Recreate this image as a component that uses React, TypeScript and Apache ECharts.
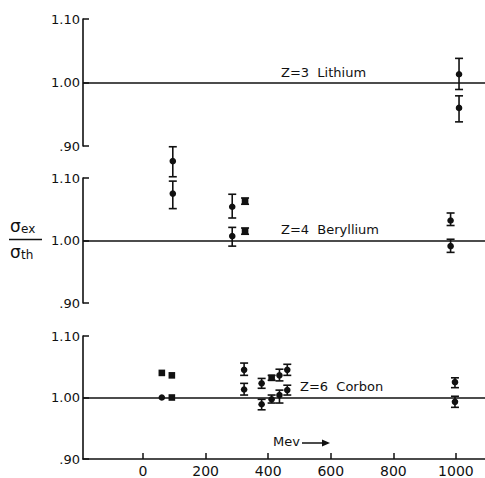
import React, { useEffect, useRef } from "react";
import * as echarts from "echarts";

// X tick labels (MeV)
const xTicks = [0, 200, 400, 600, 800, 1000];
const yTicks = [0.9, 1.0, 1.1];

// Lithium (Z=3) — circles with error bars
const liE = [1010, 1010];
const liV = [1.013, 0.96];
const liLo = [0.989, 0.938];
const liHi = [1.038, 0.979];

// Beryllium (Z=4) — circles
const beE = [95, 95, 285, 285, 983, 983];
const beV = [1.127, 1.075, 1.054, 1.007, 1.032, 0.991];
const beLo = [1.102, 1.051, 1.036, 0.991, 1.024, 0.981];
const beHi = [1.15, 1.095, 1.074, 1.021, 1.044, 1.002];
// Beryllium — squares
const beSqE = [326, 326];
const beSqV = [1.063, 1.015];
const beSqLo = [1.058, 1.01];
const beSqHi = [1.068, 1.02];

// Carbon (Z=6) — circles
const cE = [60, 323, 323, 379, 379, 411, 436, 436, 461, 461, 997, 997];
const cV = [1.0, 1.045, 1.013, 1.023, 0.989, 0.997, 1.036, 1.004, 1.045, 1.012, 1.025, 0.993];
const cLo = [null, 1.036, 1.004, 1.015, 0.98, 0.991, 1.027, 0.991, 1.036, 1.004, 1.016, 0.984];
const cHi = [null, 1.056, 1.023, 1.031, 0.997, 1.004, 1.046, 1.012, 1.054, 1.02, 1.032, 1.002];
// Carbon — squares
const cSqE = [60, 92, 92, 411];
const cSqV = [1.04, 1.036, 1.0, 1.032];
const cSqLo = [null, null, null, 1.028];
const cSqHi = [null, null, null, 1.036];

const INK = "#111";
const FONT = "DejaVu Sans";

function build(e: number[], v: number[], lo: (number | null)[], hi: (number | null)[]) {
  return e.map((x, i) => [
    x,
    v[i],
    lo[i] == null ? v[i] : lo[i],
    hi[i] == null ? v[i] : hi[i],
    lo[i] == null ? 0 : 1,
  ]);
}

function makeRender(shape: "circle" | "square") {
  return (params: any, api: any) => {
    const x = api.value(0);
    const y = api.value(1);
    const lo = api.value(2);
    const hi = api.value(3);
    const has = api.value(4);
    const p = api.coord([x, y]);
    const children: any[] = [];
    const ls = { stroke: INK, lineWidth: 1.6 };
    if (has) {
      const a = api.coord([x, lo]);
      const b = api.coord([x, hi]);
      children.push({ type: "line", shape: { x1: a[0], y1: a[1], x2: b[0], y2: b[1] }, style: ls });
      children.push({ type: "line", shape: { x1: a[0] - 4, y1: a[1], x2: a[0] + 4, y2: a[1] }, style: ls });
      children.push({ type: "line", shape: { x1: b[0] - 4, y1: b[1], x2: b[0] + 4, y2: b[1] }, style: ls });
    }
    if (shape === "circle") {
      children.push({ type: "circle", shape: { cx: p[0], cy: p[1], r: 3.3 }, style: { fill: INK } });
    } else {
      children.push({ type: "rect", shape: { x: p[0] - 3.3, y: p[1] - 3.3, width: 6.6, height: 6.6 }, style: { fill: INK } });
    }
    return { type: "group", children };
  };
}

function customSeries(idx: number, shape: "circle" | "square", data: any[]) {
  return {
    type: "custom",
    xAxisIndex: idx,
    yAxisIndex: idx,
    clip: false,
    renderItem: makeRender(shape),
    data,
    z: 5,
  };
}

function refLine(idx: number) {
  return {
    type: "line",
    xAxisIndex: idx,
    yAxisIndex: idx,
    data: [],
    markLine: {
      silent: true,
      symbol: ["none", "none"],
      label: { show: false },
      lineStyle: { color: INK, width: 1.6, type: "solid" },
      data: [{ yAxis: 1.0 }],
    },
  };
}

export default function App() {
  const ref = useRef<HTMLDivElement>(null);
  useEffect(() => {
    if (!ref.current) return;
    const chart = echarts.init(ref.current, null, { renderer: "svg" });
    const grids = [
      { left: 83, right: 0, top: 19, height: 127 },
      { left: 83, right: 0, top: 178, height: 125 },
      { left: 83, right: 0, top: 336, height: 124 },
    ];
    const xAxes = grids.map((_, i) => ({
      type: "value",
      gridIndex: i,
      min: -192,
      max: 1093,
      show: i === 2,
      splitLine: { show: false },
      axisLine: { show: i === 2, onZero: false, lineStyle: { color: INK, width: 1.6 } },
      axisTick: {
        show: i === 2,
        inside: true,
        length: 6,
        customValues: xTicks,
        lineStyle: { color: INK, width: 1.5 },
      },
      axisLabel: {
        show: i === 2,
        customValues: xTicks,
        color: INK,
        fontFamily: FONT,
        fontSize: 14,
        margin: 5,
        formatter: (v: number) => String(v),
      },
    }));
    const yAxes = grids.map((_, i) => ({
      type: "value",
      gridIndex: i,
      min: 0.9,
      max: 1.1,
      splitLine: { show: false },
      axisLine: { show: true, onZero: false, lineStyle: { color: INK, width: 1.6 } },
      axisTick: {
        show: true,
        inside: true,
        length: 6,
        customValues: yTicks,
        lineStyle: { color: INK, width: 1.5 },
      },
      axisLabel: {
        customValues: yTicks,
        color: INK,
        fontFamily: FONT,
        fontSize: 13,
        margin: 3,
        formatter: (v: number) => (Math.abs(v - 0.9) < 1e-6 ? ".90" : v.toFixed(2)),
      },
    }));
    const textStyle = (t: string, x: number, y: number, size = 13) => ({
      type: "text",
      left: x,
      top: y,
      style: { text: t, fill: INK, font: `${size}px "${FONT}"` },
    });
    chart.setOption({
      animation: false,
      backgroundColor: "#fff",
      grid: grids,
      xAxis: xAxes,
      yAxis: yAxes,
      series: [
        refLine(0),
        refLine(1),
        refLine(2),
        customSeries(0, "circle", build(liE, liV, liLo, liHi)),
        customSeries(1, "circle", build(beE, beV, beLo, beHi)),
        customSeries(1, "square", build(beSqE, beSqV, beSqLo, beSqHi)),
        customSeries(2, "circle", build(cE, cV, cLo, cHi)),
        customSeries(2, "square", build(cSqE, cSqV, cSqLo, cSqHi)),
      ],
      graphic: [
        textStyle("Z=3  Lithium", 281, 66),
        textStyle("Z=4  Beryllium", 281, 223),
        textStyle("Z=6  Corbon", 300, 380),
        textStyle("Mev", 273, 435),
        { type: "line", shape: { x1: 302, y1: 443, x2: 328, y2: 443 }, style: { stroke: INK, lineWidth: 1.5 } },
        { type: "polygon", shape: { points: [[330, 443], [322, 439.5], [322, 446.5]] }, style: { fill: INK } },
        textStyle("σ", 10, 217, 17),
        textStyle("ex", 21, 223, 12),
        { type: "line", shape: { x1: 9, y1: 239.5, x2: 42, y2: 239.5 }, style: { stroke: INK, lineWidth: 1.3 } },
        textStyle("σ", 10, 243, 17),
        textStyle("th", 21, 249, 12),
      ],
    });
    return () => chart.dispose();
  }, []);
  return (
    <div
      ref={ref}
      style={{ position: "fixed", left: 0, top: 0, width: 485, height: 478 }}
    />
  );
}
